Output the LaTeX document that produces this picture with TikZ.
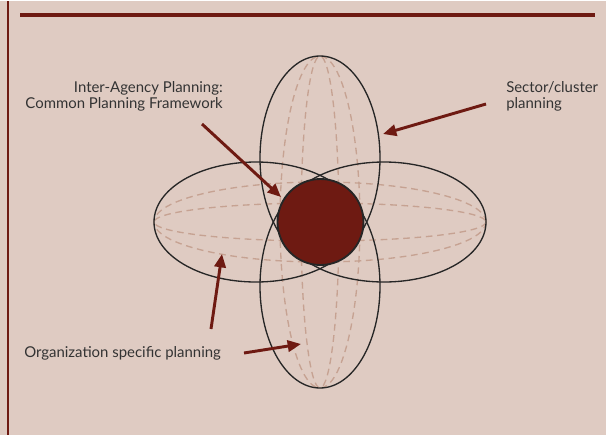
\documentclass[tikz,border=0pt]{standalone}
\usepackage{fontspec}
\setmainfont{Lato}
\usetikzlibrary{arrows.meta}
\definecolor{bgpink}{HTML}{DFCBC2}
\definecolor{darkred}{HTML}{6E1A12}
\definecolor{dashpink}{HTML}{C6A292}
\definecolor{textgray}{HTML}{333333}

\begin{document}
\begin{tikzpicture}[
		x=0.75pt,y=-0.75pt,
		petal/.style={draw=black!85,line width=1pt},
		meridian/.style={draw=dashpink,line width=1pt,dash pattern=on 5pt off 3.5pt},
		hub/.style={circle,draw=black!85,fill=darkred,line width=1.4pt,minimum size=64.5pt,inner sep=0pt},
		caption/.style={text=textgray,font=\fontsize{11.2}{12}\selectfont,inner sep=0pt},
		pointer/.style={draw=darkred,line width=2.2pt,-{Triangle[length=10pt,width=8.5pt]}}
		]
		% background and frame
		\fill[bgpink] (0,0) rectangle (606,434);
		\draw[darkred,line width=1.5pt] (7.5,0) -- (7.5,434);
		\draw[darkred,line width=2.3pt] (20,14) -- (595,14);

		% dashed meridians
		\foreach \w in {19,40} {
			\draw[meridian] (320,221) ellipse[x radius=166,y radius=\w];
			\draw[meridian] (320,221) ellipse[x radius=\w,y radius=166];
		}

		% the four petals
		\draw[petal] (320,157) ellipse[x radius=60,y radius=102];
		\draw[petal] (320,285) ellipse[x radius=60,y radius=102];
		\draw[petal] (256,221) ellipse[x radius=102,y radius=60];
		\draw[petal] (384,221) ellipse[x radius=102,y radius=60];

		\node[hub] (core) at (320.5,221) {};

		% labels
		\path (223,95) node[caption,anchor=east,align=right] (iap) {Inter-Agency Planning:\\Common Planning Framework}
		 (506,95) node[caption,anchor=west,align=left] (sector) {Sector/cluster\\planning}
		 (24,352) node[caption,anchor=west] (org) {Organization specific planning};

		\coordinate (iap tail) at (202,123);
		\coordinate (iap tip) at (281,196);
		\coordinate (sector tail) at (486,103);
		\coordinate (sector tip) at (383,133);
		\coordinate (org tail a) at (211,328);
		\coordinate (org tip a) at (222,253);
		\coordinate (org tail b) at (244,352);
		\coordinate (org tip b) at (301,343);

		\draw[pointer] (iap tail) -- (iap tip);
		\draw[pointer] (sector tail) -- (sector tip);
		\draw[pointer] (org tail a) -- (org tip a);
		\draw[pointer] (org tail b) -- (org tip b);

	\end{tikzpicture}
\end{document}
